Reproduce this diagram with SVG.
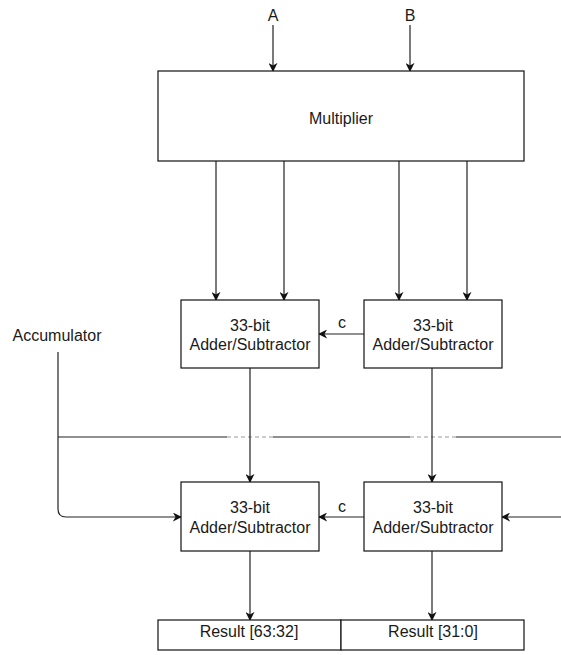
<svg xmlns="http://www.w3.org/2000/svg" width="561" height="655" viewBox="0 0 561 655">
<defs>
<marker id="arr" viewBox="0 0 10 10" refX="9" refY="5" markerWidth="9" markerHeight="9" markerUnits="userSpaceOnUse" orient="auto">
<path d="M0,0 L10,5 L0,10 L3,5 Z" fill="#111"/>
</marker>
</defs>
<style>
.box{fill:#fff;stroke:#111;stroke-width:1.2}
.t{font-family:"Liberation Sans",Arial,sans-serif;font-size:16px;fill:#1a1a1a;text-anchor:middle}
.ln{fill:none;stroke:#222;stroke-width:1.2}
.ar{fill:none;stroke:#222;stroke-width:1.2;marker-end:url(#arr)}
.gap{fill:none;stroke:#999;stroke-width:1.2;stroke-dasharray:4 3}
</style>
<rect width="561" height="655" fill="#fff"/>
<g id="connectors">
<line class="ar" x1="273" y1="25" x2="273" y2="71"/>
<line class="ar" x1="410" y1="25" x2="410" y2="71"/>
<line class="ar" x1="216" y1="161" x2="216" y2="300"/>
<line class="ar" x1="284" y1="161" x2="284" y2="300"/>
<line class="ar" x1="399" y1="161" x2="399" y2="300"/>
<line class="ar" x1="467" y1="161" x2="467" y2="300"/>
<line class="ar" x1="364" y1="334" x2="319" y2="334"/>
<path class="ln" d="M58,437 H227 M273,437 H410 M456,437 H561"/>
<path class="gap" d="M227,437 H273 M410,437 H456"/>
<line class="ar" x1="250" y1="368" x2="250" y2="482"/>
<line class="ar" x1="432" y1="368" x2="432" y2="482"/>
<path class="ar" d="M58,352 V509 Q58,517 66,517 H181"/>
<line class="ar" x1="561" y1="517" x2="502" y2="517"/>
<line class="ar" x1="364" y1="517" x2="319" y2="517"/>
<line class="ar" x1="250" y1="551" x2="250" y2="620"/>
<line class="ar" x1="432" y1="551" x2="432" y2="620"/>
<text class="t" x="342" y="328">c</text>
<text class="t" x="342" y="512">c</text>
</g>
<g id="labelA"><text class="t" x="273" y="21">A</text></g>
<g id="labelB"><text class="t" x="410" y="21">B</text></g>
<g id="labelAcc"><text class="t" x="57" y="341">Accumulator</text></g>
<g id="multiplier">
<rect class="box" x="158" y="71" width="366" height="90"/>
<text class="t" x="341" y="124">Multiplier</text>
</g>
<g id="add1">
<rect class="box" x="181" y="300" width="138" height="68"/>
<text class="t" x="250" y="331">33-bit</text>
<text class="t" x="250" y="350">Adder/Subtractor</text>
</g>
<g id="add2">
<rect class="box" x="364" y="300" width="138" height="68"/>
<text class="t" x="433" y="331">33-bit</text>
<text class="t" x="433" y="350">Adder/Subtractor</text>
</g>
<g id="add3">
<rect class="box" x="181" y="482" width="138" height="69"/>
<text class="t" x="250" y="513">33-bit</text>
<text class="t" x="250" y="533">Adder/Subtractor</text>
</g>
<g id="add4">
<rect class="box" x="364" y="482" width="138" height="69"/>
<text class="t" x="433" y="513">33-bit</text>
<text class="t" x="433" y="533">Adder/Subtractor</text>
</g>
<g id="res1">
<rect class="box" x="158" y="620" width="183" height="30"/>
<text class="t" x="249" y="637">Result [63:32]</text>
</g>
<g id="res2">
<rect class="box" x="341" y="620" width="183" height="30"/>
<text class="t" x="433" y="637">Result [31:0]</text>
</g>
</svg>
